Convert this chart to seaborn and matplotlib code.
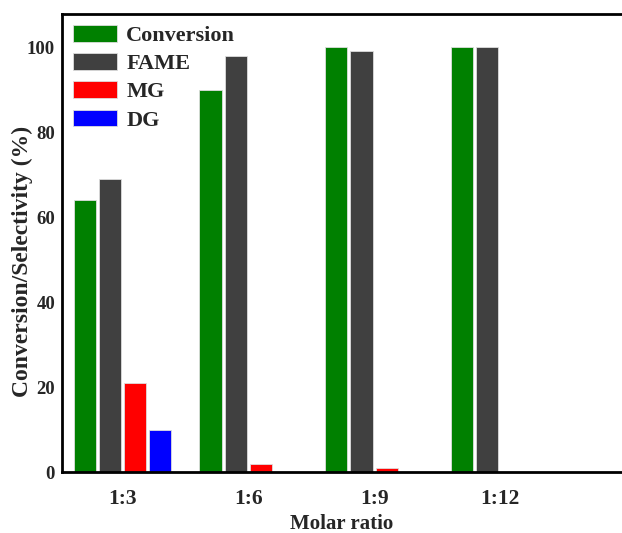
import matplotlib
matplotlib.use("Agg")
import matplotlib.pyplot as plt
import seaborn as sns
import pandas as pd

# Molar ratio categories and measured values (%)
ratios = ["1:3", "1:6", "1:9", "1:12"]
conversion = [64, 90, 100, 100]
fame = [69, 98, 99, 100]
mg = [21, 2, 1, 0]
dg = [10, 0, 0, 0]

series_names = ["Conversion", "FAME", "MG", "DG"]
series_values = [conversion, fame, mg, dg]
palette = ["#008000", "#404040", "#FF0000", "#0000FF"]

rows = []
for name, vals in zip(series_names, series_values):
    for r, v in zip(ratios, vals):
        rows.append({"Molar ratio": r, "Series": name, "Value": v})
df = pd.DataFrame(rows)

sns.set_theme(style="white")
plt.rcParams["font.family"] = ["Liberation Serif", "DejaVu Serif"]
plt.rcParams["font.weight"] = "bold"

fig = plt.figure(figsize=(6.22, 5.33), dpi=100)
ax = fig.add_axes([0.0997, 0.1144, 0.9003, 0.8593])

sns.barplot(data=df, x="Molar ratio", y="Value", hue="Series",
            order=ratios, hue_order=series_names, palette=palette,
            width=0.8, gap=0.12, saturation=1, edgecolor="#dddddd",
            linewidth=0.6, ax=ax, legend=True)

ax.set_ylim(0, 107.8)
ax.set_xlim(-0.48, 3.97)
ax.set_yticks([0, 20, 40, 60, 80, 100])
ax.set_xlabel("Molar ratio", fontsize=15, fontweight="bold", labelpad=4)
ax.set_ylabel("Conversion/Selectivity (%)", fontsize=17, fontweight="bold")
ax.yaxis.set_label_coords(-0.052, 0.46)

for lbl in ax.get_yticklabels():
    lbl.set_fontsize(13.5)
    lbl.set_fontweight("bold")
for lbl in ax.get_xticklabels():
    lbl.set_fontsize(15.5)
    lbl.set_fontweight("bold")

ax.tick_params(axis="y", direction="out", length=4, width=1.5, color="black", pad=1)
ax.tick_params(axis="x", length=0, pad=12)

for side in ["left", "bottom", "top"]:
    ax.spines[side].set_visible(True)
    ax.spines[side].set_color("black")
    ax.spines[side].set_linewidth(2)
ax.spines["right"].set_visible(False)

ax.legend(loc="upper left", frameon=False,
          handlelength=2.0, handleheight=0.78, labelspacing=0.32,
          handletextpad=0.4, borderaxespad=0.25, borderpad=0.24,
          prop={"family": "Liberation Serif", "weight": "bold", "size": 16},
          title=None)

fig.savefig("out.png", dpi=100)
